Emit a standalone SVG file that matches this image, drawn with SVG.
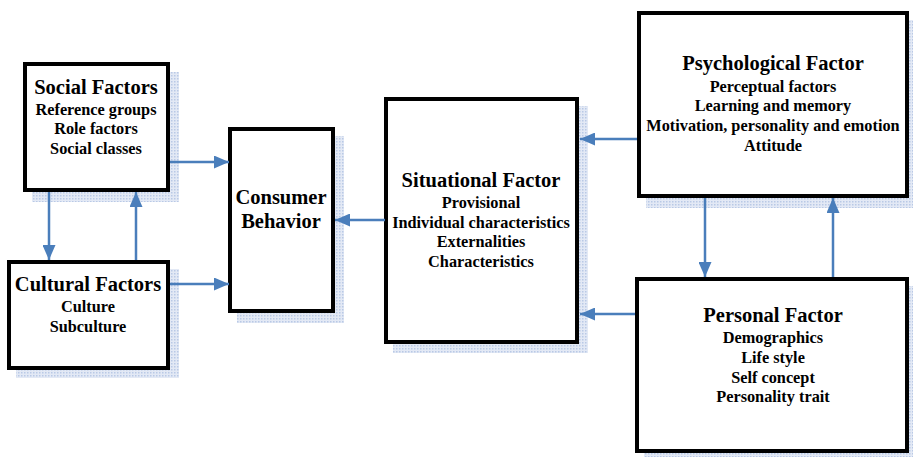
<svg xmlns="http://www.w3.org/2000/svg" width="913" height="457" viewBox="0 0 913 457">
<defs>
<pattern id="dots" width="3" height="3" patternUnits="userSpaceOnUse">
<rect width="3" height="3" fill="#e3e9f5"/>
<rect width="1.5" height="1.5" fill="#b9c9e6"/>
</pattern>
<marker id="ah" markerWidth="15" markerHeight="13" refX="15" refY="6.5" orient="auto" markerUnits="userSpaceOnUse">
<path d="M0,0 L15,6.5 L0,13 z" fill="#4a7ebb"/>
</marker>
<style>
.shadow{fill:url(#dots);}
.box{fill:#fff;stroke:#000;stroke-width:4;}
.t{font-family:"Liberation Serif","Times New Roman",serif;font-weight:bold;text-anchor:middle;fill:#000;}
.h{font-size:20.5px;}
.s{font-size:16.3px;}
.conn line{stroke:#4a7ebb;stroke-width:2.5;marker-end:url(#ah);}
</style>
</defs>
<rect width="913" height="457" fill="#fff"/>

<g id="social">
<rect class="shadow" x="32" y="72" width="147" height="130"/>
<rect class="box" x="25" y="64" width="143" height="126"/>
<text class="t h" x="96" y="94">Social Factors</text>
<text class="t s" x="96" y="115">Reference groups</text>
<text class="t s" x="96" y="134">Role factors</text>
<text class="t s" x="96" y="154">Social classes</text>
</g>

<g id="cultural">
<rect class="shadow" x="16" y="269" width="163" height="109"/>
<rect class="box" x="9" y="262" width="159" height="106"/>
<text class="t h" x="88" y="291">Cultural Factors</text>
<text class="t s" x="88" y="312">Culture</text>
<text class="t s" x="88" y="332">Subculture</text>
</g>

<g id="consumer">
<rect class="shadow" x="237" y="136" width="107" height="187"/>
<rect class="box" x="230" y="129" width="103" height="182"/>
<text class="t h" x="281" y="204">Consumer</text>
<text class="t h" x="281" y="228">Behavior</text>
</g>

<g id="situational">
<rect class="shadow" x="393" y="106" width="195" height="247"/>
<rect class="box" x="386" y="99" width="191" height="243"/>
<text class="t h" x="481" y="187">Situational Factor</text>
<text class="t s" x="481" y="208">Provisional</text>
<text class="t s" x="481" y="228">Individual characteristics</text>
<text class="t s" x="481" y="247">Externalities</text>
<text class="t s" x="481" y="267">Characteristics</text>
</g>

<g id="psychological">
<rect class="shadow" x="646" y="20" width="272" height="188"/>
<rect class="box" x="639" y="13" width="268" height="183"/>
<text class="t h" x="773" y="70">Psychological Factor</text>
<text class="t s" x="773" y="92">Perceptual factors</text>
<text class="t s" x="773" y="111">Learning and memory</text>
<text class="t s" x="773" y="131">Motivation, personality and emotion</text>
<text class="t s" x="773" y="151">Attitude</text>
</g>

<g id="personal">
<rect class="shadow" x="644" y="286" width="274" height="176"/>
<rect class="box" x="637" y="279" width="270" height="172"/>
<text class="t h" x="773" y="322">Personal Factor</text>
<text class="t s" x="773" y="343">Demographics</text>
<text class="t s" x="773" y="363">Life style</text>
<text class="t s" x="773" y="383">Self concept</text>
<text class="t s" x="773" y="402">Personality trait</text>
</g>

<g id="connectors" class="conn">
<line x1="170" y1="162" x2="229" y2="162"/>
<line x1="170" y1="284" x2="229" y2="284"/>
<line x1="49" y1="192" x2="49" y2="260"/>
<line x1="136" y1="260" x2="136" y2="192"/>
<line x1="385" y1="220" x2="335" y2="220"/>
<line x1="637" y1="139" x2="580" y2="139"/>
<line x1="635" y1="314" x2="580" y2="314"/>
<line x1="705" y1="198" x2="705" y2="277"/>
<line x1="833" y1="277" x2="833" y2="198"/>
</g>
</svg>
